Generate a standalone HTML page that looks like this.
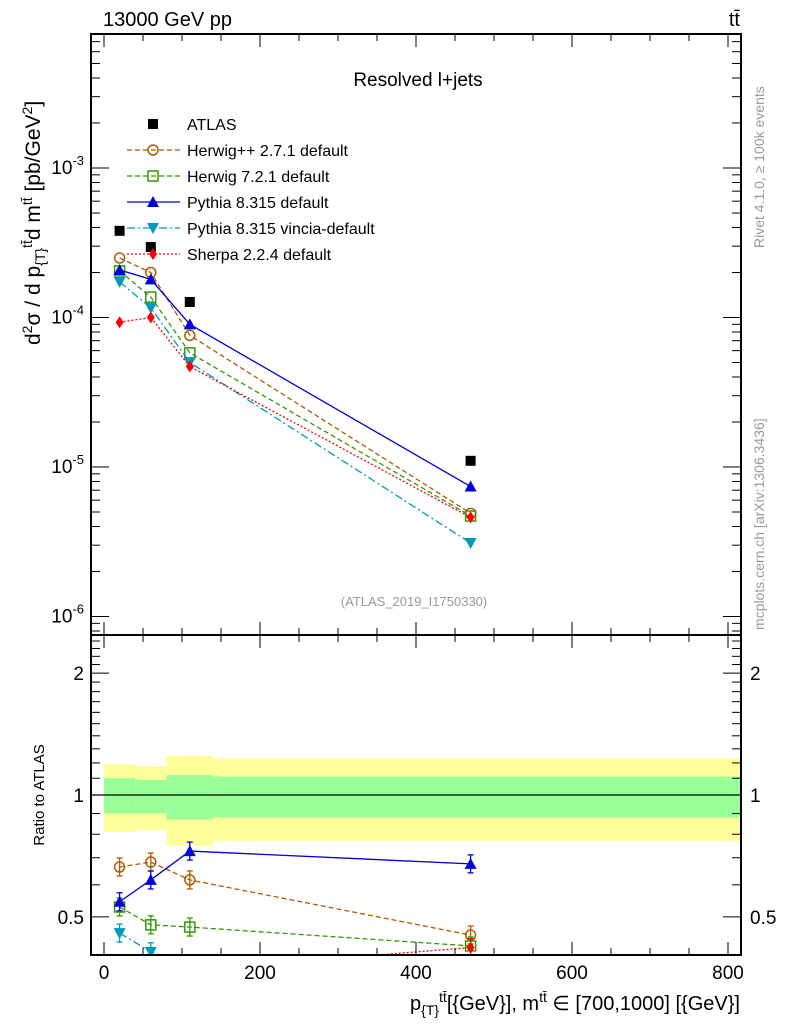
<!DOCTYPE html>
<html><head><meta charset="utf-8"><style>
body{margin:0;background:#fff}
svg text{font-family:"Liberation Sans",sans-serif}
</style></head><body>
<svg id="chart" width="786" height="1024" xmlns="http://www.w3.org/2000/svg">
<defs>
<clipPath id="cm"><rect x="91" y="34" width="650" height="601"/></clipPath>
<clipPath id="cr"><rect x="91" y="635" width="650" height="320"/></clipPath>
</defs>
<g id="bands" clip-path="url(#cr)"></g>
<g id="marks"></g>
<g id="axes"></g>
<text x="103" y="26" font-size="20">13000 GeV pp</text>
<text x="740" y="26" font-size="20" text-anchor="end">tt̄</text>
<text x="418" y="86" font-size="19" text-anchor="middle">Resolved l+jets</text>
<text x="414" y="606" font-size="13" fill="#999" text-anchor="middle">(ATLAS_2019_I1750330)</text>
<text transform="translate(764,248) rotate(-90)" font-size="14" fill="#999">Rivet 4.1.0, ≥ 100k events</text>
<text transform="translate(764,630) rotate(-90)" font-size="14" fill="#999">mcplots.cern.ch [arXiv:1306.3436]</text>
<text transform="translate(40,345) rotate(-90)" font-size="21">d<tspan dy="-8" font-size="14">2</tspan><tspan dy="8">σ /  d p</tspan><tspan dy="5" font-size="14">{T}</tspan><tspan dy="-13" font-size="14">tt̄</tspan><tspan dy="8">d m</tspan><tspan dy="-8" font-size="14">tt̄</tspan><tspan dy="8"> [pb/GeV</tspan><tspan dy="-8" font-size="14">2</tspan><tspan dy="8">]</tspan></text>
<text transform="translate(44,795) rotate(-90)" font-size="15" text-anchor="middle">Ratio to ATLAS</text>
<text x="740" y="1010" font-size="20" text-anchor="end">p<tspan dy="5" font-size="14">{T}</tspan><tspan dy="-13" font-size="14">tt̄</tspan><tspan dy="8">[{GeV}], m</tspan><tspan dy="-8" font-size="14">tt̄</tspan><tspan dy="8"> ∈ [700,1000] [{GeV}]</tspan></text>
<g id="legend"></g>
</svg>
<script>
const xCenters=[20,60,110,470];
const binEdges=[0,40,80,140,820];
const atlas=[3.8e-4,2.96e-4,1.27e-4,1.1e-5];
const herwigpp=[2.5e-4,2.0e-4,7.6e-5,4.9e-6];
const herwig7=[2.05e-4,1.37e-4,5.8e-5,4.7e-6];
const pythia=[2.08e-4,1.8e-4,9.0e-5,7.4e-6];
const vincia=[1.73e-4,1.16e-4,5.0e-5,3.1e-6];
const sherpa=[9.3e-5,1.0e-4,4.7e-5,4.6e-6];
const rHerwigpp=[0.664,0.683,0.617,0.451];
const rHerwig7=[0.529,0.478,0.472,0.424];
const rPythia=[0.545,0.617,0.727,0.676];
const rVincia=[0.456,0.41,0.38,0.28];
const rSherpa=[0.24,0.34,0.37,0.42];
const yellowLo=[0.81,0.82,0.75,0.77];
const yellowHi=[1.19,1.18,1.25,1.23];
const greenLo=[0.90,0.90,0.87,0.88];
const greenHi=[1.10,1.09,1.12,1.11];
const xTicks=[0,200,400,600,800];
const yTicks=[-3,-4,-5,-6];
const rTicks=[0.5,1,2];

const NS="http://www.w3.org/2000/svg";
const X=v=>104+v*0.78;
const Y=v=>168-(Math.log10(v)+3)*149.5;
const R=v=>795-Math.log10(v)*405;
function el(t,a,p){const e=document.createElementNS(NS,t);for(const k in a)e.setAttribute(k,a[k]);p.appendChild(e);return e;}
const marks=document.getElementById('marks'),axes=document.getElementById('axes'),bands=document.getElementById('bands'),leg=document.getElementById('legend');
for(let i=0;i<4;i++){
 const x0=X(binEdges[i]),x1=X(binEdges[i+1]);
 let b=el('rect',{x:x0,y:R(yellowHi[i]),width:x1-x0,height:R(yellowLo[i])-R(yellowHi[i]),fill:'#ffff99'},bands);
 
 
 b=el('rect',{x:x0,y:R(greenHi[i]),width:x1-x0,height:R(greenLo[i])-R(greenHi[i]),fill:'#99ff99'},bands);
 
 
}
el('line',{x1:91,x2:741,y1:R(1),y2:R(1),stroke:'#000','stroke-width':1.2},bands);
function marker(type,x,y,c,g){
 if(type==='sq')return el('rect',{x:x-5,y:y-5,width:10,height:10,fill:c},g);
 if(type==='osq')return el('rect',{x:x-5,y:y-5,width:10,height:10,fill:'none',stroke:c,'stroke-width':1.5},g);
 if(type==='oc')return el('circle',{cx:x,cy:y,r:5,fill:'none',stroke:c,'stroke-width':1.5},g);
 if(type==='tu')return el('polygon',{points:`${x},${y-6} ${x-6},${y+5} ${x+6},${y+5}`,fill:c},g);
 if(type==='td')return el('polygon',{points:`${x},${y+6} ${x-6},${y-5} ${x+6},${y-5}`,fill:c},g);
 if(type==='dm')return el('polygon',{points:`${x},${y-6} ${x-4},${y} ${x},${y+6} ${x+4},${y}`,fill:c},g);
}
const series=[
 {name:'herwigpp',d:herwigpp,r:rHerwigpp,c:'#b35900',m:'oc',dash:'5,3',lab:'Herwig++ 2.7.1 default'},
 {name:'herwig7',d:herwig7,r:rHerwig7,c:'#339900',m:'osq',dash:'5,3',lab:'Herwig 7.2.1 default'},
 {name:'pythia',d:pythia,r:rPythia,c:'#0000dd',m:'tu',dash:'',lab:'Pythia 8.315 default'},
 {name:'vincia',d:vincia,r:rVincia,c:'#0099bb',m:'td',dash:'8,3,2,3',lab:'Pythia 8.315 vincia-default'},
 {name:'sherpa',d:sherpa,r:rSherpa,c:'#ff0000',m:'dm',dash:'2,2',lab:'Sherpa 2.2.4 default'}
];
const gm=el('g',{'clip-path':'url(#cm)'},marks),gr=el('g',{'clip-path':'url(#cr)'},marks);
series.forEach(s=>{
 let p=el('polyline',{points:xCenters.map((x,i)=>X(x)+','+Y(s.d[i])).join(' '),fill:'none',stroke:s.c,'stroke-width':1.3,'stroke-dasharray':s.dash},gm);
 
 
 p=el('polyline',{points:xCenters.map((x,i)=>X(x)+','+R(s.r[i])).join(' '),fill:'none',stroke:s.c,'stroke-width':1.3,'stroke-dasharray':s.dash},gr);
 
 
 xCenters.forEach((x,i)=>{
  let m=marker(s.m,X(x),Y(s.d[i]),s.c,gm);
  
  
  const ry=R(s.r[i]),e=9;
  el('line',{x1:X(x),x2:X(x),y1:ry-e,y2:ry+e,stroke:s.c,'stroke-width':1.3},gr);
  el('line',{x1:X(x)-3,x2:X(x)+3,y1:ry-e,y2:ry-e,stroke:s.c,'stroke-width':1.3},gr);
  el('line',{x1:X(x)-3,x2:X(x)+3,y1:ry+e,y2:ry+e,stroke:s.c,'stroke-width':1.3},gr);
  m=marker(s.m,X(x),ry,s.c,gr);
  
  
 });
});
xCenters.forEach((x,i)=>{
 const m=marker('sq',X(x),Y(atlas[i]),'#000',gm);
 
 
});
let ly=124;
let lm=marker('sq',153,ly,'#000',leg);


let lt=el('text',{x:187,y:ly+6,'font-size':16},leg);lt.textContent='ATLAS';


series.forEach((s,i)=>{
 const y=150+i*26;
 el('line',{x1:127,x2:180,y1:y,y2:y,stroke:s.c,'stroke-width':1.3,'stroke-dasharray':s.dash},leg);
 marker(s.m,153,y,s.c,leg);
 const t=el('text',{x:187,y:y+6,'font-size':16},leg);t.textContent=s.lab;
 
 
});
el('rect',{x:91,y:34,width:650,height:601,fill:'none',stroke:'#000','stroke-width':2},axes);
el('rect',{x:91,y:635,width:650,height:320,fill:'none',stroke:'#000','stroke-width':2},axes);
for(let v=0;v<=820;v+=50){
 const x=X(v);if(x<91||x>741)continue;const big=v%200===0,L=big?13:7;
 [[34,1],[635,-1],[635,1],[955,-1]].forEach(([y,d])=>el('line',{x1:x,x2:x,y1:y,y2:y+d*L,stroke:'#000','stroke-width':1},axes));
}
xTicks.forEach(v=>{const t=el('text',{x:X(v),y:979,'font-size':19,'text-anchor':'middle'},axes);t.textContent=v;
 });
for(let d=-7;d<=-2;d++)for(let k=1;k<10;k++){
 const y=Y(k*Math.pow(10,d));if(y<34||y>635)continue;const L=k===1?18:9;
 el('line',{x1:91,x2:91+L,y1:y,y2:y,stroke:'#000'},axes);el('line',{x1:741,x2:741-L,y1:y,y2:y,stroke:'#000'},axes);
}
yTicks.forEach(p=>{const t=el('text',{x:84,y:Y(Math.pow(10,p))+6,'font-size':19,'text-anchor':'end'},axes);
 t.innerHTML='10<tspan dy="-9" font-size="13">'+p+'</tspan>';
 });
for(let v=0.4;v<2.5;v+=0.1){const y=R(v);if(y<635||y>955)continue;const big=Math.abs(v-0.5)<1e-6||Math.abs(v-1)<1e-6||Math.abs(v-2)<1e-6;const L=big?18:9;
 el('line',{x1:91,x2:91+L,y1:y,y2:y,stroke:'#000'},axes);el('line',{x1:741,x2:741-L,y1:y,y2:y,stroke:'#000'},axes);}
rTicks.forEach(v=>{[[84,'end'],[750,'start']].forEach(([x,a])=>{const t=el('text',{x:x,y:R(v)+7,'font-size':19,'text-anchor':a},axes);t.textContent=v;
 });});
</script>
</body></html>
